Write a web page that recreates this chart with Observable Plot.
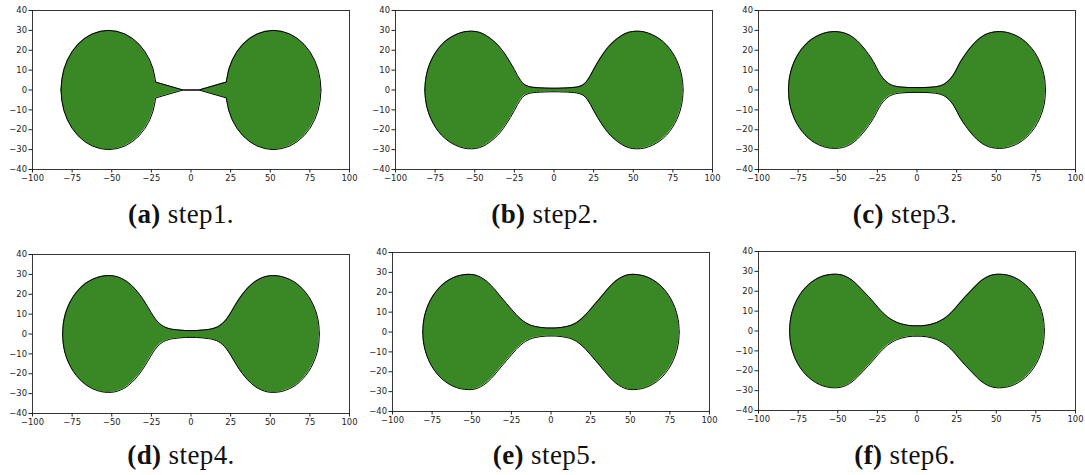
<!DOCTYPE html>
<html><head><meta charset="utf-8">
<script src="https://cdn.jsdelivr.net/npm/d3@7"></script>
<script src="https://cdn.jsdelivr.net/npm/@observablehq/plot@0.6"></script>
<style>
body{margin:0;background:#fff;}
#wrap{position:relative;width:1085px;height:475px;overflow:hidden;background:#fff;}
.panel{position:absolute;}
#caps{position:absolute;left:0;top:0;}
</style></head><body><div id="wrap"></div>
<script>
// ---- data (upper-right quarter outline of each shape, mirrored for the rest) ----
const stepNames = ["step1.", "step2.", "step3.", "step4.", "step5.", "step6."];
const letters = ["(a)", "(b)", "(c)", "(d)", "(e)", "(f)"];
const xTicks = [-100, -75, -50, -25, 0, 25, 50, 75, 100];
const yTicks = [-40, -30, -20, -10, 0, 10, 20, 30, 40];

const profile1 = [[0,0],[5,0],[22.3,4],[22.5,5.2],[23.8,10.3],[26,15],[29,19.3],[32.7,23],[37,26],[41.7,28.2],[46.8,29.5],[52,30],[57.2,29.5],[62.3,28.2],[67,26],[71.3,23],[75,19.3],[78,15],[80.2,10.3],[81.5,5.2],[82,0]];
const profile2 = [[0,0.9],[6,1.0],[11,1.2],[14.5,1.5],[17,2.1],[19,3.0],[21,4.8],[23,7.3],[25,10.3],[27.5,13.8],[30.5,17.6],[34,21.4],[38,24.6],[42.5,27.3],[47,29.0],[52,29.6],[57.1,29.2],[62.1,27.8],[66.8,25.6],[71,22.7],[74.6,19],[77.5,14.8],[79.7,10.1],[81,5.1],[81.5,0]];
const profile3 = [[0,1.2],[5,1.25],[10,1.5],[13.5,1.9],[16.5,2.7],[19,4.0],[21.5,6.0],[23.5,8.3],[25.5,11.3],[27.5,14.3],[30.5,17.9],[33,20.6],[36,23.4],[39.5,26.0],[43,27.8],[47,28.95],[52,29.4],[57.05,28.95],[61.95,27.6],[66.55,25.5],[70.7,22.5],[74.3,18.9],[77.2,14.7],[79.35,10.05],[80.65,5.1],[81.1,0]];
const profile4 = [[0,1.7],[3.5,1.75],[7,1.95],[11,2.3],[14.5,2.9],[17.5,3.9],[20,5.4],[22.5,7.6],[25,10.6],[27.5,14.0],[30.5,17.8],[34,21.5],[37.5,24.5],[41,26.7],[44.5,28.2],[48,29.1],[52,29.4],[57,28.95],[61.9,27.6],[66.5,25.5],[70.6,22.5],[74.2,18.9],[77.1,14.7],[79.3,10.05],[80.55,5.1],[81,0]];
const profile5 = [[0,2.0],[3,2.05],[6.5,2.3],[10,2.8],[13,3.5],[16,4.7],[19,6.5],[22,8.8],[25,11.5],[28,14.3],[31,17.1],[34,20],[37.5,23.2],[41,25.8],[44.5,27.6],[48,28.7],[52,29],[57,28.55],[61.9,27.25],[66.45,25.1],[70.6,22.2],[74.1,18.65],[77,14.5],[79.15,9.9],[80.45,5.05],[80.9,0]];
const profile6 = [[0,2.6],[3,2.65],[6,2.9],[9.5,3.5],[12.5,4.3],[15.5,5.5],[18.5,7.1],[21.5,9.2],[24.5,11.8],[27.5,14.6],[30.5,17.3],[34,20.2],[37.5,23.1],[41,25.6],[44.5,27.3],[48,28.3],[52,28.6],[56.95,28.15],[61.7,26.9],[66.2,24.75],[70.25,21.9],[73.75,18.4],[76.6,14.3],[78.7,9.8],[79.95,4.95],[80.4,0]];
const profiles = [profile1, profile2, profile3, profile4, profile5, profile6];
const curves = ["linear", "catmull-rom", "catmull-rom", "catmull-rom", "catmull-rom", "catmull-rom"];

// ---- layout ----
const GREEN = "#3a8726";
const ML = 32, MT = 10, MR = 10, MB = 30, IW = 317, IH = 159;
const frames = [[32, 9.5], [394.5, 10], [758, 10], [32, 254], [392, 252], [758, 251]];
const capPos = [[181, 223], [545, 223], [905, 223], [181, 464], [545, 464], [905, 464]];

function mirrored(profile) {
  const pts = [];
  for (let i = profile.length - 1; i >= 0; i--) {
    const [x, y] = profile[i];
    if (x !== 0) pts.push({x: -x, y});
  }
  for (const [x, y] of profile) pts.push({x, y});
  return pts;
}

const wrap = document.getElementById("wrap");
profiles.forEach((prof, i) => {
  const pts = mirrored(prof);
  const curve = curves[i];
  const chart = Plot.plot({
    width: ML + IW + MR, height: MT + IH + MB,
    marginLeft: ML, marginTop: MT, marginRight: MR, marginBottom: MB,
    style: {fontFamily: "'DejaVu Sans', sans-serif", fontSize: "8.4px", color: "#222", background: "transparent"},
    x: {domain: [-100, 100], ticks: xTicks, tickSize: 3.5, tickPadding: 2.5, label: null},
    y: {domain: [-40, 40], ticks: yTicks, tickSize: 3.5, tickPadding: 2, label: null},
    marks: [
      Plot.areaY(pts, {x: "x", y1: d => -d.y, y2: "y", fill: GREEN, curve}),
      Plot.line(pts, {x: "x", y: "y", stroke: "#000", strokeWidth: 1, curve}),
      Plot.line(pts, {x: "x", y: d => -d.y, stroke: "#000", strokeWidth: 1, curve}),
      Plot.frame({stroke: "#222", strokeWidth: 0.9})
    ]
  });
  chart.classList.add("panel");
  chart.style.left = (frames[i][0] - ML) + "px";
  chart.style.top = (frames[i][1] - MT) + "px";
  wrap.appendChild(chart);
});

// captions
const ns = "http://www.w3.org/2000/svg";
const caps = document.createElementNS(ns, "svg");
caps.setAttribute("id", "caps");
caps.setAttribute("width", 1085);
caps.setAttribute("height", 475);
caps.style.pointerEvents = "none";
capPos.forEach(([cx, cy], i) => {
  const t = document.createElementNS(ns, "text");
  t.setAttribute("x", cx);
  t.setAttribute("y", cy);
  t.setAttribute("text-anchor", "middle");
  t.setAttribute("font-family", "'Liberation Serif', serif");
  t.setAttribute("font-size", "27");
  t.setAttribute("letter-spacing", "0.4");
  t.setAttribute("fill", "#111");
  const b = document.createElementNS(ns, "tspan");
  b.setAttribute("font-weight", "bold");
  b.textContent = letters[i];
  const s = document.createElementNS(ns, "tspan");
  s.textContent = " " + stepNames[i];
  t.appendChild(b); t.appendChild(s);
  caps.appendChild(t);
});
wrap.appendChild(caps);
</script>
</body></html>
